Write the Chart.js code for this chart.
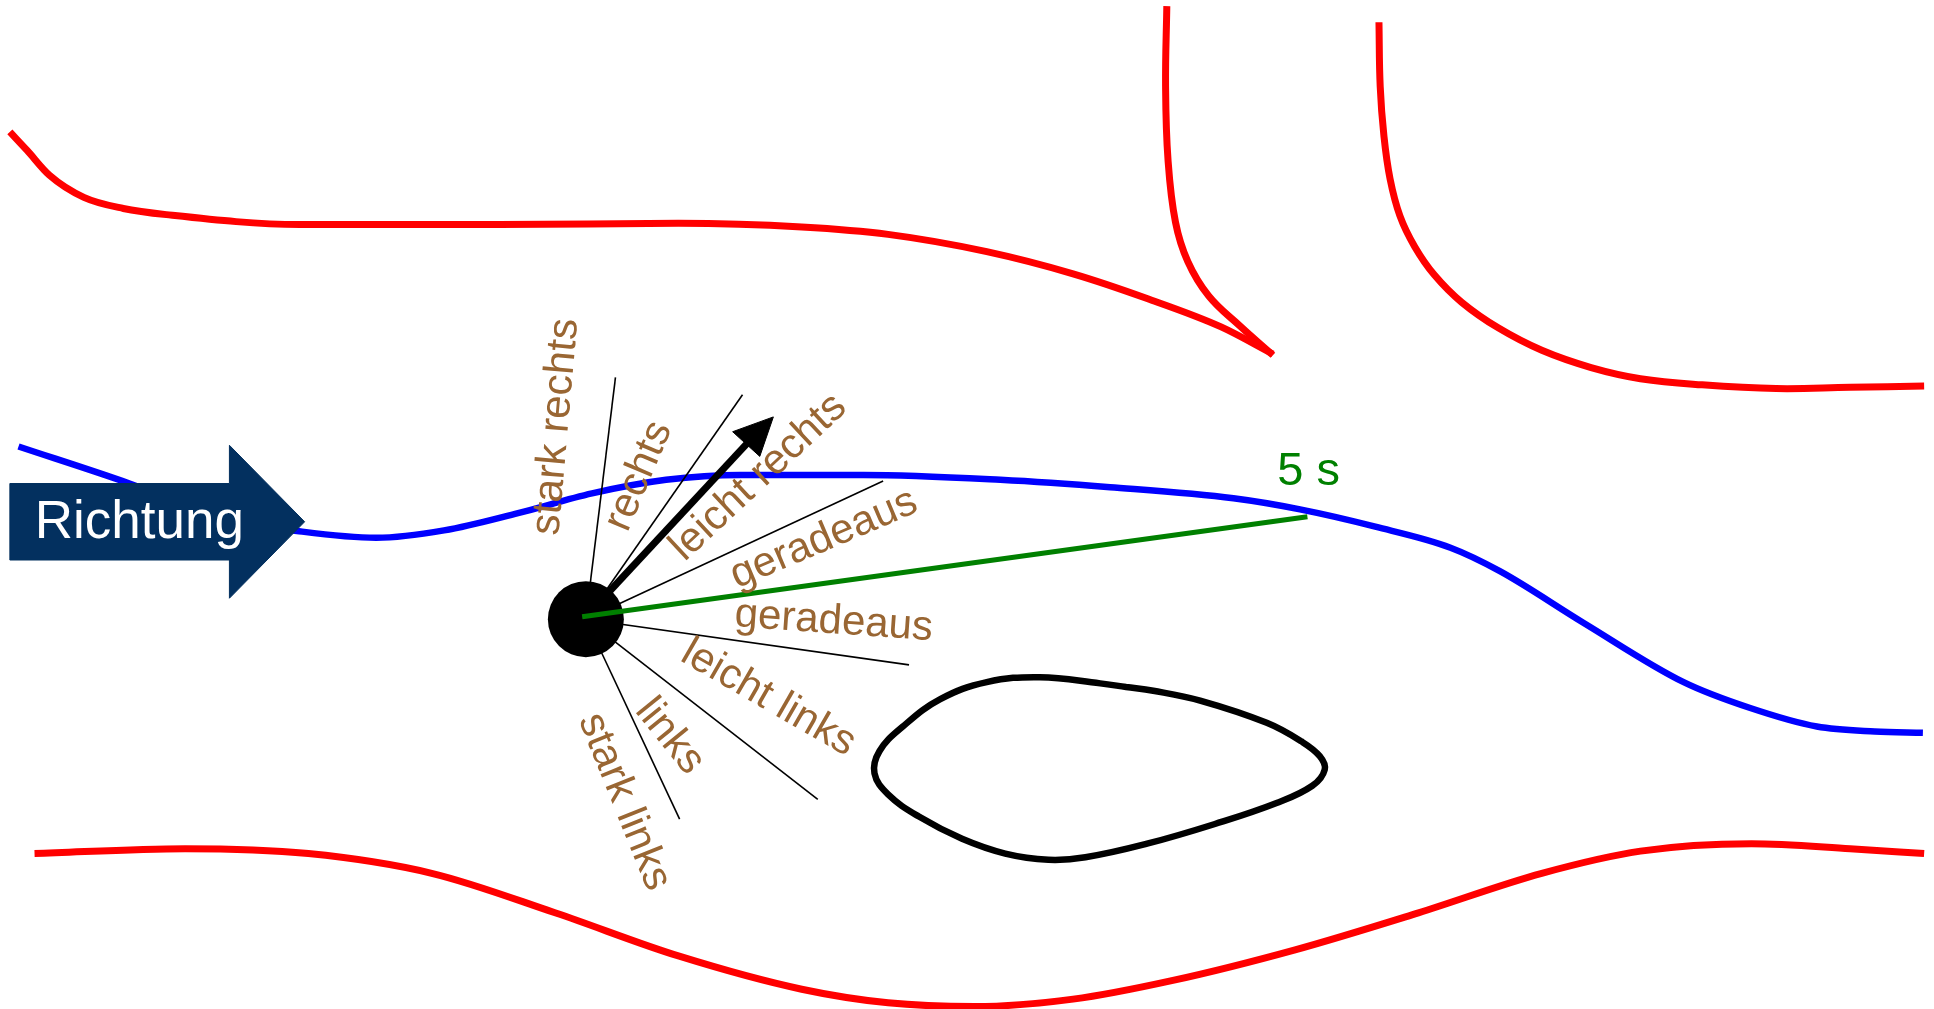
<!DOCTYPE html>
<html>
<head>
<meta charset="utf-8">
<title>Richtung</title>
<script src="https://cdn.jsdelivr.net/npm/chart.js@4.4.1/dist/chart.umd.min.js"></script>
<style>
  html, body { margin: 0; padding: 0; background: #fff; }
  #wrap { width: 1934px; height: 1009px; position: relative; }
</style>
</head>
<body>
<div id="wrap"><canvas id="sketch"></canvas></div>
<script>
// --- picture data (in picture units) ---
const redTopLeft = [[8,107],[22,122],[40,142],[68,160],[100,169],[135,174],[243,182],[405,182],[550,181],[650,184],[720,190],[800,204],[870,222],[930,242],[990,265],[1032,287]];
const redTopMid = [[946,5],[945,70],[947,130],[953,180],[963,212],[980,240],[1005,264],[1032,288]];
const redTopRight = [[1118,18],[1119,70],[1122,110],[1127,145],[1135,175],[1147,200],[1163,223],[1185,245],[1215,266],[1250,284],[1290,298],[1330,307],[1380,312],[1440,315],[1500,314],[1560,313]];
const redBottom = [[28,692],[150,688],[250,692],[350,708],[450,740],[550,775],[650,802],[720,813],[790,816],[870,810],[950,795],[1050,770],[1150,740],[1250,708],[1330,690],[1420,684],[1500,688],[1560,692]];
const bluePath = [[15,362],[105,392],[180,420],[245,431],[305,436],[360,430],[420,416],[480,400],[540,389],[600,385],[700,385],[811,389],[900,395],[1000,404],[1054,413],[1115,427],[1176,444],[1216,463],[1284,505],[1365,553],[1419,574],[1473,589],[1520,593],[1559,594]];
const obstacle = [[913,557],[935,560],[973,568],[1027,586],[1055,601],[1070,613],[1074,624],[1064,637],[1035,651],[985,668],[930,684],[880,695],[850,697],[815,692],[780,680],[745,662],[720,644],[709,627],[713,609],[732,589],[762,567],[800,553],[843,549],[892,554],[913,557]];
const richtungArrow = [[8,392],[186,392],[186,361],[247,423],[186,485],[186,454],[8,454],[8,392]];

const robot = [475, 502];
const spokeEnds = [[499,306],[602,320],[716,390],[737,539],[663,648],[551,664]];
const lookAhead = [[472,500],[1060,419]];
const headingShaft = [[475,500],[608,357]];
const headingTip = [[627,338],[594,350],[616,370],[627,338]];

const sectorNames = ['stark rechts','rechts','leicht rechts','geradeaus','geradeaus','leicht links','links','stark links'];
const sectorPos = [[451,346],[518,386],[615,387],[668,437],[676,504],[623,566],[543,597],[506,650]];
const sectorAngle = [-85,-67,-43,-23,4,30,51,68];

const extraTexts = ['Richtung','5 s'];
const extraPos = [[113,424],[1061,383]];

const pts = arr => arr.map(p => ({ x: p[0], y: p[1] }));

const datasets = [];
// first dataset is drawn on top
datasets.push({ data: pts(lookAhead), borderColor: '#008000', borderWidth: 5, tension: 0 });
datasets.push({ data: pts([robot]), showLine: false, pointRadius: 38, pointBackgroundColor: '#000', pointBorderWidth: 0 });
datasets.push({ data: pts(headingTip), borderColor: '#000', borderWidth: 1, backgroundColor: '#000', fill: 'shape', tension: 0 });
datasets.push({ data: pts(headingShaft), borderColor: '#000', borderWidth: 7, tension: 0 });
spokeEnds.forEach(e => {
    datasets.push({ data: pts([robot, e]), borderColor: '#000', borderWidth: 1.6, tension: 0 });
});
datasets.push({ data: pts(richtungArrow), borderColor: '#03305f', borderWidth: 1, backgroundColor: '#03305f', fill: 'shape', tension: 0 });
datasets.push({ data: pts(bluePath), borderColor: '#0000ff', borderWidth: 6.5, cubicInterpolationMode: 'monotone' });
datasets.push({ data: pts(obstacle), borderColor: '#000', borderWidth: 6.5, tension: 0.4 });
datasets.push({ data: pts(redTopLeft), borderColor: '#ff0000', borderWidth: 7, cubicInterpolationMode: 'monotone' });
datasets.push({ data: pts(redTopMid), borderColor: '#ff0000', borderWidth: 7, tension: 0.4 });
datasets.push({ data: pts(redTopRight), borderColor: '#ff0000', borderWidth: 7, tension: 0.4 });
datasets.push({ data: pts(redBottom), borderColor: '#ff0000', borderWidth: 7, cubicInterpolationMode: 'monotone' });
datasets.forEach(d => {
    if (d.showLine === undefined) d.showLine = true;
    if (d.pointRadius === undefined) d.pointRadius = 0;
    if (d.fill === undefined) d.fill = false;
    d.clip = false;
    d.borderCapStyle = 'butt';
});

// --- text on top ---
const textPlugin = {
    id: 'sketchTexts',
    afterDatasetsDraw(chart) {
        const { ctx } = chart;
        const xs = chart.scales.x, ys = chart.scales.y;
        const put = (txt, p, deg, size, color) => {
            ctx.save();
            ctx.translate(xs.getPixelForValue(p[0]), ys.getPixelForValue(p[1]));
            ctx.rotate(deg * Math.PI / 180);
            ctx.font = size + 'px "Liberation Sans", Arial, sans-serif';
            ctx.fillStyle = color;
            ctx.textAlign = 'center';
            ctx.textBaseline = 'middle';
            ctx.fillText(txt, 0, 0);
            ctx.restore();
        };
        sectorNames.forEach((t, i) => put(t, sectorPos[i], sectorAngle[i], 42, '#996633'));
        put(extraTexts[0], extraPos[0], 0, 53, '#ffffff');
        put(extraTexts[1], extraPos[1], 0, 47, '#008000');
    }
};

new Chart(document.getElementById('sketch'), {
    type: 'scatter',
    data: { datasets },
    options: {
        responsive: true,
        maintainAspectRatio: false,
        animation: false,
        events: [],
        layout: { padding: 0, autoPadding: false },
        scales: {
            x: { type: 'linear', min: 0, max: 1568, display: false },
            y: { type: 'linear', min: 0, max: 818, reverse: true, display: false }
        },
        plugins: { legend: { display: false }, tooltip: { enabled: false } }
    },
    plugins: [textPlugin]
});
</script>
</body>
</html>
